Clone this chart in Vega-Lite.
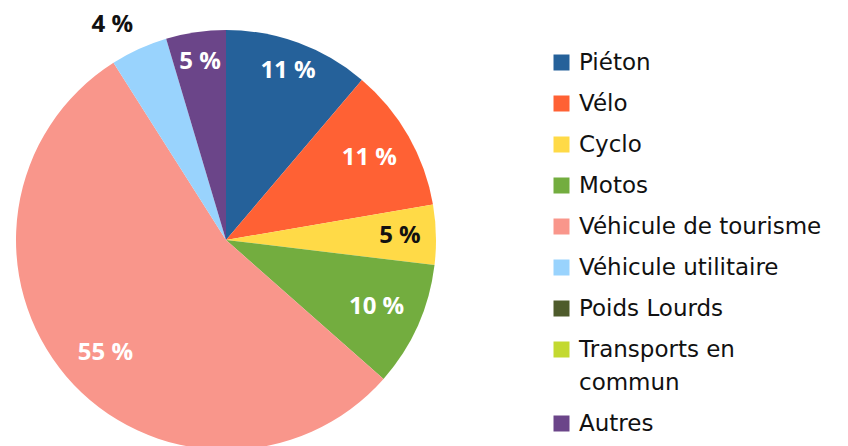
{
  "$schema": "https://vega.github.io/schema/vega-lite/v6.json",
  "width": 452,
  "height": 480,
  "padding": {"left": 0, "top": 0, "right": 396, "bottom": 0},
  "autosize": "none",
  "background": "white",
  "config": {"view": {"stroke": null}, "font": "Open Sans"},
  "data": {
    "values": [
      {"idx": 1, "cat": "Piéton", "value": 11.2, "label": "11 %"},
      {"idx": 2, "cat": "Vélo", "value": 11.1, "label": "11 %"},
      {"idx": 3, "cat": "Cyclo", "value": 4.6, "label": "5 %"},
      {"idx": 4, "cat": "Motos", "value": 9.6, "label": "10 %"},
      {"idx": 5, "cat": "Véhicule de tourisme", "value": 54.5, "label": "55 %"},
      {"idx": 6, "cat": "Véhicule utilitaire", "value": 4.4, "label": "4 %"},
      {"idx": 7, "cat": "Poids Lourds", "value": 0, "label": ""},
      {"idx": 8, "cat": "Transports en commun", "value": 0, "label": ""},
      {"idx": 9, "cat": "Autres", "value": 4.6, "label": "5 %"}
    ]
  },
  "encoding": {
    "theta": {"field": "value", "type": "quantitative", "stack": true},
    "order": {"field": "idx", "type": "quantitative"},
    "color": {
      "field": "cat",
      "type": "nominal",
      "sort": null,
      "scale": {
        "domain": ["Piéton", "Vélo", "Cyclo", "Motos", "Véhicule de tourisme", "Véhicule utilitaire", "Poids Lourds", "Transports en commun", "Autres"],
        "range": ["#25619a", "#ff6134", "#ffda47", "#73ad3f", "#f9968b", "#99d3fd", "#4e5b2b", "#c3d930", "#6b4589"]
      },
      "legend": {
        "title": null,
        "orient": "none",
        "legendX": 550,
        "legendY": 51,
        "padding": 0,
        "symbolType": "square",
        "symbolSize": 256,
        "symbolStrokeWidth": 0,
        "labelFontSize": 23,
        "labelFont": "DejaVu Sans",
        "labelColor": "#111111",
        "labelOffset": 6,
        "labelLimit": 400,
        "rowPadding": 17,
        "labelExpr": "datum.label == 'Transports en commun' ? ['Transports en', 'commun'] : datum.label",
        "encode": {"labels": {"update": {"lineHeight": {"value": 33}}}}
      }
    }
  },
  "layer": [
    {"mark": {"type": "arc", "outerRadius": 210}},
    {
      "mark": {"type": "text", "radius": 180, "fontSize": 24, "fontWeight": "bold", "align": "center", "baseline": "middle"},
      "encoding": {
        "color": {"value": "white"},
        "text": {"condition": {"test": "datum.cat == 'Piéton' || datum.cat == 'Autres'", "field": "label"}, "value": ""}
      }
    },
    {
      "mark": {"type": "text", "radius": 165, "fontSize": 24, "fontWeight": "bold", "align": "center", "baseline": "middle"},
      "encoding": {
        "color": {"value": "white"},
        "text": {"condition": {"test": "datum.cat == 'Vélo' || datum.cat == 'Motos'", "field": "label"}, "value": ""}
      }
    },
    {
      "mark": {"type": "text", "radius": 165, "thetaOffset": -0.044, "fontSize": 24, "fontWeight": "bold", "align": "center", "baseline": "middle"},
      "encoding": {
        "color": {"value": "white"},
        "text": {"condition": {"test": "datum.cat == 'Véhicule de tourisme'", "field": "label"}, "value": ""}
      }
    },
    {
      "mark": {"type": "text", "radius": 174, "fontSize": 24, "fontWeight": "bold", "align": "center", "baseline": "middle"},
      "encoding": {
        "color": {"value": "#111111"},
        "text": {"condition": {"test": "datum.cat == 'Cyclo'", "field": "label"}, "value": ""}
      }
    },
    {
      "mark": {"type": "text", "radius": 243, "thetaOffset": -0.06, "fontSize": 24, "fontWeight": "bold", "align": "center", "baseline": "middle"},
      "encoding": {
        "color": {"value": "#111111"},
        "text": {"condition": {"test": "datum.cat == 'Véhicule utilitaire'", "field": "label"}, "value": ""}
      }
    }
  ]
}
